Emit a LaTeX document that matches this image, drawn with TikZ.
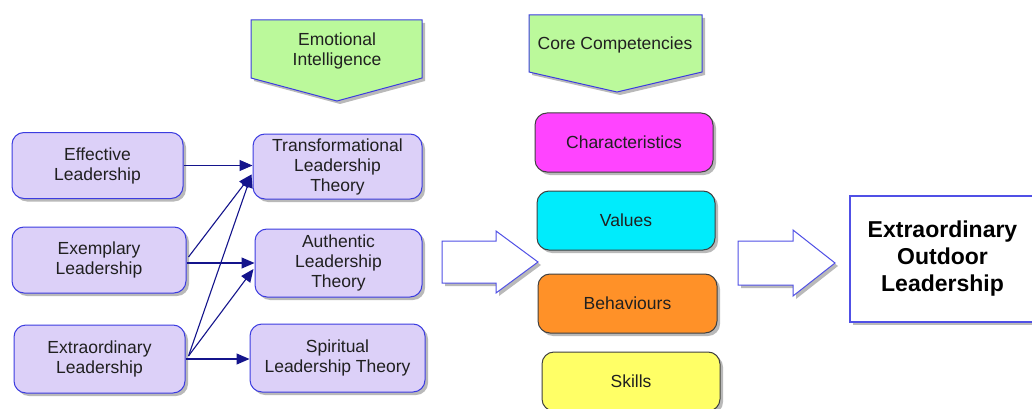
\documentclass[tikz,border=0pt]{standalone}
\usepackage{fontspec}
\setmainfont{Liberation Sans}
\usetikzlibrary{arrows.meta,shadows,calc}
\definecolor{lav}{HTML}{DCD0F8}
\definecolor{lavline}{HTML}{3C3CE0}
\definecolor{leaf}{HTML}{BBF99B}
\definecolor{navy}{HTML}{14148C}
\definecolor{magentabox}{HTML}{FF44FF}
\definecolor{cyanbox}{HTML}{00ECFC}
\definecolor{orangebox}{HTML}{FF9128}
\definecolor{yellowbox}{HTML}{FFFF66}
\definecolor{ink}{HTML}{202020}
\definecolor{hollow}{HTML}{5050E6}
\tikzset{
  shade3/.style={drop shadow={shadow xshift=3pt,shadow yshift=-3pt,fill=black!50,opacity=0.55}},
  txt/.style={font=\fontsize{17.5}{20}\selectfont,text=ink,align=center},
  lower/.style={execute at begin node={\rule{0pt}{#1}}},
  lbox/.style={txt,shade3,draw=lavline,fill=lav,line width=1pt,rounded corners=12pt,inner sep=0pt,
    lower=20pt},
  cbox/.style={txt,shade3,draw=black!75,line width=1pt,rounded corners=12pt,inner sep=0pt,
    minimum height=59pt},
  banner/.style={shade3,draw=lavline,fill=leaf,line width=1pt},
  bigarrow/.style={shade3,draw=hollow,fill=white,line width=1pt},
  conn/.style={draw=navy,line width=1.1pt,-{Triangle[length=13pt,width=11pt]}},
}
\begin{document}
\begin{tikzpicture}[x=1pt,y=-1pt]
\clip (0,0) rectangle (1032,409);
\fill[white] (0,0) rectangle (1032,409);

% banners
\path[banner] (251,20) -- (422,20) -- (422,78) -- (337,101) -- (251,78) -- cycle;
\node[txt,lower=17pt] (ei) at (337,51) {Emotional\\Intelligence};
\path[banner] (529,15) -- (702,15) -- (702,72) -- (617,92) -- (529,72) -- cycle;
\node[txt] (cc) at (615,45) {Core Competencies};

% leadership styles
\node[lbox,minimum width=171pt,minimum height=66pt] (eff) at (97.5,165.5) {Effective\\Leadership};
\node[lbox,minimum width=174pt,minimum height=66pt] (exe) at (99,260) {Exemplary\\Leadership};
\node[lbox,minimum width=171pt,minimum height=68pt] (ext) at (99.5,359) {Extraordinary\\Leadership};

% theories
\node[lbox,minimum width=169pt,minimum height=65pt] (tra) at (337.5,166.5) {Transformational\\Leadership\\Theory};
\node[lbox,minimum width=167pt,minimum height=68pt] (aut) at (338.5,263) {Authentic\\Leadership\\Theory};
\node[lbox,minimum width=175pt,minimum height=68pt] (spi) at (337.5,358) {Spiritual\\Leadership Theory};

% competencies
\node[cbox,fill=magentabox,minimum width=178pt] (chr) at (624,142.5) {Characteristics};
\node[cbox,fill=cyanbox,minimum width=178pt] (val) at (626,220.5) {Values};
\node[cbox,fill=orangebox,minimum width=179pt] (beh) at (627.5,303.5) {Behaviours};
\node[cbox,fill=yellowbox,minimum width=178pt] (ski) at (631,381.5) {Skills};

% outcome
\node[shade3,draw=hollow,fill=white,line width=1.3pt,minimum width=185pt,minimum height=126pt,
  inner sep=0pt,align=center,font=\fontsize{23}{27}\selectfont\bfseries,lower=28pt] (eol) at (942.5,259)
  {Extraordinary\\Outdoor\\Leadership};

% hollow arrows
\path[bigarrow] (442,241) -- (496,241) -- (496,231) -- (538,262) -- (496,293) -- (496,283) -- (442,283) -- cycle;
\path[bigarrow] (738,241) -- (793,241) -- (793,230) -- (835,263) -- (793,296) -- (793,285) -- (738,285) -- cycle;

% connectors
\coordinate (traIn) at ($(tra.west)+(-1,8)$);
\coordinate (autIn) at ($(aut.west)+(-1,6)$);
\coordinate (exeOut) at ($(exe.east)+(2,-3)$);
\coordinate (extOut) at ($(ext.east)+(3,-3)$);
\draw[conn] (eff.east) -- (eff.east -| tra.west);
\draw[conn] (exeOut) -- (traIn);
\draw[conn] (exe.east |- aut.west) -- (aut.west);
\draw[conn] (extOut) -- (traIn);
\draw[conn] (extOut) -- (autIn);
\draw[conn] (ext.east) -- (ext.east -| spi.west);
\end{tikzpicture}
\end{document}
